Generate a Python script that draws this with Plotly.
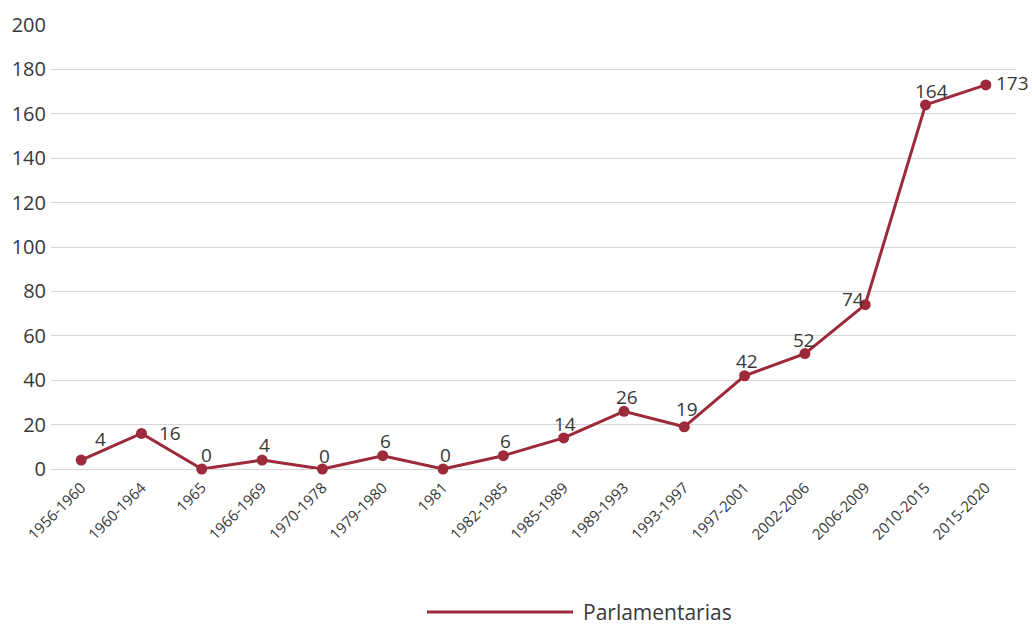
import plotly.graph_objects as go

periodos = ["1956-1960", "1960-1964", "1965", "1966-1969", "1970-1978", "1979-1980",
            "1981", "1982-1985", "1985-1989", "1989-1993", "1993-1997", "1997-2001",
            "2002-2006", "2006-2009", "2010-2015", "2015-2020"]
parlamentarias = [4, 16, 0, 4, 0, 6, 0, 6, 14, 26, 19, 42, 52, 74, 164, 173]

# Pixel offsets of each value label from its marker (right, up)
label_dx = [19, 29, 5, 2, 2, 3, 2, 2, 1, 3, 3, 2, -1, -12, 6, 27]
label_dy = [21, 0, 14, 15, 13, 15, 14, 15, 14, 14, 18, 15, 14, 6, 14, 2]

COLOR = "#9c2a3a"
FONT = "Open Sans, Noto Sans, sans-serif"
TEXT = "#383838"

L, R, T, B = 51, 16, 25, 157
W, H = 1032, 626
PW, PH = W - L - R, H - T - B

fig = go.Figure()
fig.add_trace(go.Scatter(
    x=periodos, y=parlamentarias,
    mode="lines+markers",
    name="Parlamentarias",
    line=dict(color=COLOR, width=3),
    marker=dict(color=COLOR, size=11),
    cliponaxis=False,
    showlegend=False,
))

# Value labels; x is the category index so that labels such as "1965" are not
# read as numeric positions
for i, (val, dx, dy) in enumerate(zip(parlamentarias, label_dx, label_dy)):
    fig.add_annotation(x=i, y=val, text=str(val), showarrow=False,
                       xanchor="center", yanchor="middle",
                       xshift=dx, yshift=dy,
                       font=dict(size=19, color=TEXT, family=FONT))

fig.update_layout(
    width=W, height=H,
    margin=dict(l=L, r=R, t=T, b=B),
    plot_bgcolor="white", paper_bgcolor="white",
    font=dict(family=FONT, color=TEXT),
    xaxis=dict(
        type="category", range=[-0.5, 15.5],
        tickangle=-45, tickfont=dict(size=15, color=TEXT),
        showgrid=False, showline=False, ticks="", ticklabelstandoff=6,
    ),
    yaxis=dict(
        range=[0, 200], dtick=20, tickfont=dict(size=20, color=TEXT),
        gridcolor="#d6d6d6", gridwidth=1, zeroline=True,
        zerolinecolor="#d6d6d6", zerolinewidth=1,
        ticks="", showline=False, ticklabelstandoff=4,
    ),
)

# Legend drawn as a long line sample with its label
ly = -(612 - (H - B)) / PH
fig.add_shape(type="line", xref="paper", yref="paper",
              x0=(427 - L) / PW, x1=(573 - L) / PW, y0=ly, y1=ly,
              line=dict(color=COLOR, width=3))
fig.add_annotation(xref="paper", yref="paper",
                   x=(581 - L) / PW, y=ly,
                   xanchor="left", yanchor="middle", showarrow=False,
                   text="Parlamentarias",
                   font=dict(size=21, color=TEXT, family=FONT))

fig.write_html("out.html")
